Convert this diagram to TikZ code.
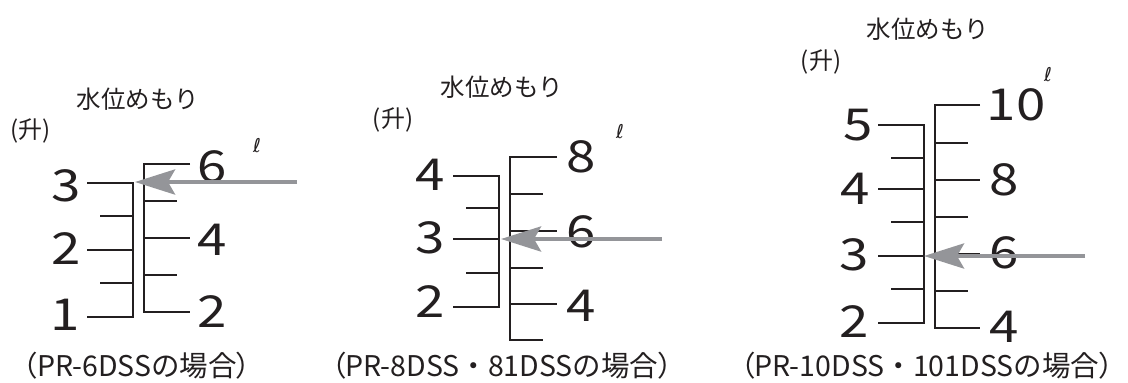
\documentclass[tikz,border=0pt]{standalone}
\usepackage{fontspec}
\setmainfont{Noto Sans CJK JP}
\newfontfamily\digitfont[FakeStretch=1.2]{Noto Sans CJK JP}
\newfontfamily\capparenfont[RawFeature=+palt]{Noto Sans CJK JP}
\newfontfamily\literfont{DejaVu Sans}
\newcommand{\lparen}{{\capparenfont （}}
\newcommand{\rparen}{{\capparenfont ）}}
\usetikzlibrary{arrows.meta}
\definecolor{ink}{HTML}{231F20}
\definecolor{arrowgray}{HTML}{949599}
\tikzset{
  scaleline/.style={draw=ink, line width=2pt},
  num/.style={font=\digitfont\fontsize{44}{44}\selectfont, text=ink, inner sep=0pt},
  heading/.style={font=\fontsize{24.5}{25}\selectfont, text=ink, inner sep=0pt},
  unitlbl/.style={font=\fontsize{24}{24}\selectfont, text=ink, inner sep=0pt},
  literlbl/.style={font=\literfont\fontsize{19}{19}\selectfont, text=ink, inner sep=0pt},
  caption/.style={font=\fontsize{28.5}{29}\selectfont, text=ink, inner sep=0pt},
  pointer/.style={draw=arrowgray, line width=4.5pt, -{Stealth[length=40pt,width=25pt,inset=7pt]}}
}
\begin{document}
\begin{tikzpicture}[x=1pt,y=-1pt]
\useasboundingbox (0,0) rectangle (1128,383);
\fill[white] (0,0) rectangle (1128,383);

% ---------- Panel 1 ----------
\draw[scaleline] (87,183) -- (133,183) -- (133,317) -- (87,317);
\draw[scaleline] (87,250) -- (133,250);
\draw[scaleline] (100,216) -- (133,216);
\draw[scaleline] (100,283) -- (133,283);
\draw[scaleline] (190,164) -- (144,164) -- (144,312) -- (190,312);
\draw[scaleline] (144,238) -- (190,238);
\draw[scaleline] (144,201) -- (177,201);
\draw[scaleline] (144,275) -- (177,275);
\node[num] (a3) at (66,186) {3};
\node[num] (a2) at (66,249) {2};
\node[num] (a1) at (65,315) {1};
\node[num] (b6) at (212,167) {6};
\node[num] (b4) at (212,240) {4};
\node[num] (b2) at (212,312) {2};
\node[heading] (t1) at (138,99) {水位めもり};
\node[unitlbl] (u1) at (31,131) {(升)};
\node[literlbl] (l1) at (257,146) {ℓ};
\node[caption] (c1) at (137,366) {\lparen PR-6DSSの場合\rparen};
\coordinate (p1s) at (297,182);
\coordinate (p1e) at (135,182);
\draw[pointer] (p1s) -- (p1e);

% ---------- Panel 2 ----------
\draw[scaleline] (453,176) -- (499,176) -- (499,307) -- (453,307);
\draw[scaleline] (453,239) -- (499,239);
\draw[scaleline] (466,208) -- (499,208);
\draw[scaleline] (466,273) -- (499,273);
\draw[scaleline] (557,157) -- (510,157) -- (510,340) -- (543,340);
\draw[scaleline] (510,231) -- (557,231);
\draw[scaleline] (510,304) -- (557,304);
\draw[scaleline] (510,194) -- (543,194);
\draw[scaleline] (510,268) -- (543,268);
\node[num] (d4) at (430,175) {4};
\node[num] (d3) at (430,238) {3};
\node[num] (d2) at (430,302) {2};
\node[num] (e8) at (581,157) {8};
\node[num] (e6) at (581,232) {6};
\node[num] (e4) at (581,306) {4};
\node[heading] (t2) at (502,87) {水位めもり};
\node[unitlbl] (u2) at (393,120) {(升)};
\node[literlbl] (l2) at (620,132) {ℓ};
\node[caption] (c2) at (502,366) {\lparen PR-8DSS・81DSSの場合\rparen};
\coordinate (p2s) at (662,239);
\coordinate (p2e) at (501,239);
\draw[pointer] (p2s) -- (p2e);

% ---------- Panel 3 ----------
\draw[scaleline] (878,125) -- (924,125) -- (924,323) -- (878,323);
\draw[scaleline] (878,189) -- (924,189);
\draw[scaleline] (878,256) -- (924,256);
\draw[scaleline] (891,158) -- (924,158);
\draw[scaleline] (891,222) -- (924,222);
\draw[scaleline] (891,289) -- (924,289);
\draw[scaleline] (980,105) -- (935,105) -- (935,328) -- (980,328);
\draw[scaleline] (935,180) -- (980,180);
\draw[scaleline] (935,254) -- (980,254);
\draw[scaleline] (935,143) -- (968,143);
\draw[scaleline] (935,217) -- (968,217);
\draw[scaleline] (935,291) -- (968,291);
\node[num] (f5) at (858,125) {5};
\node[num] (f4) at (855,189) {4};
\node[num] (f3) at (854,255) {3};
\node[num] (f2) at (854,322) {2};
\node[num] (g10) at (1016,105) {10};
\node[num] (g8) at (1004,180) {8};
\node[num] (g6) at (1004,253) {6};
\node[num] (g4) at (1004,327) {4};
\node[heading] (t3) at (928,29) {水位めもり};
\node[unitlbl] (u3) at (821,62) {(升)};
\node[literlbl] (l3) at (1048,75) {ℓ};
\node[caption] (c3) at (927,366) {\lparen PR-10DSS・101DSSの場合\rparen};
\coordinate (p3s) at (1085,256);
\coordinate (p3e) at (924,256);
\draw[pointer] (p3s) -- (p3e);
\end{tikzpicture}
\end{document}
